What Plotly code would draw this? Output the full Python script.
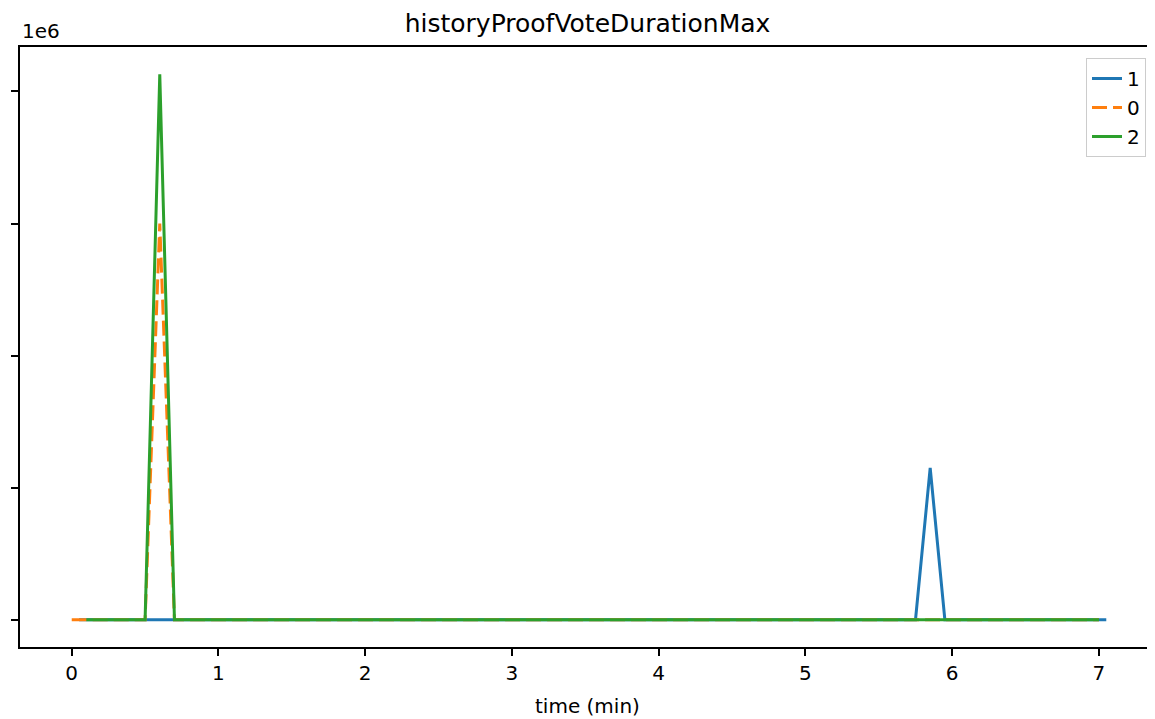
import plotly.graph_objects as go

# ---- data ----
series_names = ["1", "0", "2"]

blue_t = [0.05, 0.15, 0.25, 0.35, 0.45, 0.55, 0.65, 0.75, 0.85, 0.95,
          1.05, 1.15, 1.25, 1.35, 1.45, 1.55, 1.65, 1.75, 1.85, 1.95,
          2.05, 2.15, 2.25, 2.35, 2.45, 2.55, 2.65, 2.75, 2.85, 2.95,
          3.05, 3.15, 3.25, 3.35, 3.45, 3.55, 3.65, 3.75, 3.85, 3.95,
          4.05, 4.15, 4.25, 4.35, 4.45, 4.55, 4.65, 4.75, 4.85, 4.95,
          5.05, 5.15, 5.25, 5.35, 5.45, 5.55, 5.65, 5.75, 5.85, 5.95,
          6.05, 6.15, 6.25, 6.35, 6.45, 6.55, 6.65, 6.75, 6.85, 6.95,
          7.05]
blue_v = [0, 0, 0, 0, 0, 0, 0, 0, 0, 0,
          0, 0, 0, 0, 0, 0, 0, 0, 0, 0,
          0, 0, 0, 0, 0, 0, 0, 0, 0, 0,
          0, 0, 0, 0, 0, 0, 0, 0, 0, 0,
          0, 0, 0, 0, 0, 0, 0, 0, 0, 0,
          0, 0, 0, 0, 0, 0, 0, 0, 1150000, 0,
          0, 0, 0, 0, 0, 0, 0, 0, 0, 0,
          0]

orange_t = [0.0, 0.1, 0.2, 0.3, 0.4, 0.5, 0.6, 0.7, 0.8, 0.9,
            1.0, 1.1, 1.2, 1.3, 1.4, 1.5, 1.6, 1.7, 1.8, 1.9,
            2.0, 2.1, 2.2, 2.3, 2.4, 2.5, 2.6, 2.7, 2.8, 2.9,
            3.0, 3.1, 3.2, 3.3, 3.4, 3.5, 3.6, 3.7, 3.8, 3.9,
            4.0, 4.1, 4.2, 4.3, 4.4, 4.5, 4.6, 4.7, 4.8, 4.9,
            5.0, 5.1, 5.2, 5.3, 5.4, 5.5, 5.6, 5.7, 5.8, 5.9,
            6.0, 6.1, 6.2, 6.3, 6.4, 6.5, 6.6, 6.7, 6.8, 6.9,
            7.0]
orange_v = [0, 0, 0, 0, 0, 0, 3000000, 0, 0, 0,
            0, 0, 0, 0, 0, 0, 0, 0, 0, 0,
            0, 0, 0, 0, 0, 0, 0, 0, 0, 0,
            0, 0, 0, 0, 0, 0, 0, 0, 0, 0,
            0, 0, 0, 0, 0, 0, 0, 0, 0, 0,
            0, 0, 0, 0, 0, 0, 0, 0, 0, 0,
            0, 0, 0, 0, 0, 0, 0, 0, 0, 0,
            0]

green_t = [0.1, 0.2, 0.3, 0.4, 0.5, 0.6, 0.7, 0.8, 0.9, 1.0,
           1.1, 1.2, 1.3, 1.4, 1.5, 1.6, 1.7, 1.8, 1.9, 2.0,
           2.1, 2.2, 2.3, 2.4, 2.5, 2.6, 2.7, 2.8, 2.9, 3.0,
           3.1, 3.2, 3.3, 3.4, 3.5, 3.6, 3.7, 3.8, 3.9, 4.0,
           4.1, 4.2, 4.3, 4.4, 4.5, 4.6, 4.7, 4.8, 4.9, 5.0,
           5.1, 5.2, 5.3, 5.4, 5.5, 5.6, 5.7, 5.8, 5.9, 6.0,
           6.1, 6.2, 6.3, 6.4, 6.5, 6.6, 6.7, 6.8, 6.9, 7.0]
green_v = [0, 0, 0, 0, 0, 4130000, 0, 0, 0, 0,
           0, 0, 0, 0, 0, 0, 0, 0, 0, 0,
           0, 0, 0, 0, 0, 0, 0, 0, 0, 0,
           0, 0, 0, 0, 0, 0, 0, 0, 0, 0,
           0, 0, 0, 0, 0, 0, 0, 0, 0, 0,
           0, 0, 0, 0, 0, 0, 0, 0, 0, 0,
           0, 0, 0, 0, 0, 0, 0, 0, 0, 0]

x_ticks = [0, 1, 2, 3, 4, 5, 6, 7]
y_ticks = [0, 1000000, 2000000, 3000000, 4000000]

# ---- figure ----
# The page body has an 8px margin, so the figure is offset by 8px.
W, H = 1147, 711

colors = ["#1f77b4", "#ff7f0e", "#2ca02c"]
dashes = ["solid", "15px,6px", "solid"]
all_t = [blue_t, orange_t, green_t]
all_v = [blue_v, orange_v, green_v]

fig = go.Figure()
for name, t, v, c, d in zip(series_names, all_t, all_v, colors, dashes):
    fig.add_trace(go.Scatter(x=t, y=v, mode="lines", name=name,
                             line=dict(color=c, width=3, dash=d)))

fig.update_layout(
    width=W, height=H,
    margin=dict(l=12, r=0, t=39, b=72),
    plot_bgcolor="white", paper_bgcolor="white",
    font=dict(family="DejaVu Sans", size=20, color="black"),
    title=dict(text="historyProofVoteDurationMax", xref="container", x=579.5 / W,
               xanchor="center", yref="container", y=1 - 15 / H, yanchor="middle",
               font=dict(size=25, color="black")),
    showlegend=True,
    legend=dict(x=(1146 - 20) / 1135, xanchor="right", y=1 - (58 - 47) / 600,
                yanchor="top", bordercolor="#cccccc", borderwidth=1,
                bgcolor="rgba(255,255,255,0.8)", font=dict(size=20)),
)
fig.update_xaxes(range=[-0.3525, 7.382], tickvals=x_ticks, ticks="outside",
                 ticklen=7, tickwidth=1.6, tickcolor="black",
                 showline=True, linecolor="black", linewidth=1.6, mirror=True,
                 showgrid=False, zeroline=False, tickfont=dict(size=20))
fig.update_yaxes(range=[-206500, 4336500], tickvals=y_ticks, ticks="outside",
                 ticklen=7, tickwidth=1.6, tickcolor="black", showticklabels=False,
                 showline=True, linecolor="black", linewidth=1.6, mirror=False,
                 showgrid=False, zeroline=False)
fig.add_annotation(text="1e6", xref="paper", yref="paper", x=0, y=1,
                   xanchor="left", yanchor="bottom", yshift=2, showarrow=False,
                   font=dict(size=20, color="black"))
fig.add_annotation(text="time (min)", xref="paper", yref="paper", x=0.5004,
                   y=-(706 - 647) / 600, xanchor="center", yanchor="middle",
                   showarrow=False, font=dict(size=20, color="black"))

fig.write_html("out.html")
